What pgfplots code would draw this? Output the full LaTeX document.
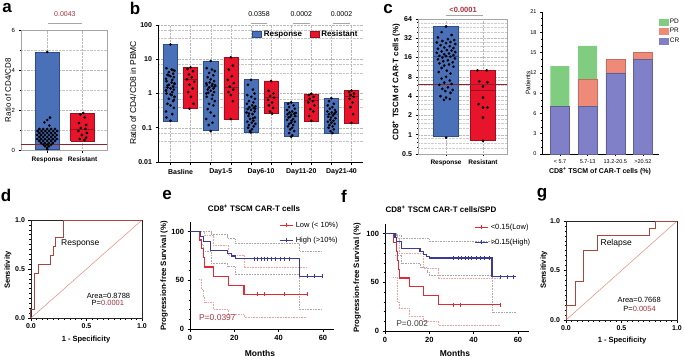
\documentclass[border=0pt]{standalone}
\usepackage{fontspec}
\setmainfont{Liberation Sans}
\usepackage{pgfplots}
\pgfplotsset{compat=1.18}
\definecolor{bfill}{HTML}{4A70B8}
\definecolor{bdraw}{HTML}{2E4C8C}
\definecolor{rfill}{HTML}{E8142C}
\definecolor{rdraw}{HTML}{9E0F1E}
\definecolor{thr}{HTML}{8B2232}
\definecolor{pv}{HTML}{A8323E}
\definecolor{roc}{HTML}{A5473D}
\definecolor{diag}{HTML}{E88A78}
\definecolor{kmr}{HTML}{E02A36}
\definecolor{kmb}{HTML}{3A3A98}
\definecolor{cir}{HTML}{F2A0A0}
\definecolor{cib}{HTML}{A8A8A8}
\definecolor{cr}{HTML}{8080C8}
\definecolor{pr}{HTML}{F08A78}
\definecolor{pd}{HTML}{80CC80}
\newcommand\fs[1]{\fontsize{#1}{#1}\selectfont}
\newcommand\rbar[6]{%
\addplot[fill=#6fill, draw=#6draw, line width=0.5pt, forget plot] coordinates {(#1,#3) (#2,#3) (#2,#4) (#1,#4) (#1,#3)};
\addplot[draw=#6draw, line width=0.7pt, forget plot] coordinates {(#1,#5) (#2,#5)};}
\pgfplotsset{
  base/.style={scale only axis, anchor=south west, clip=false, tick align=outside,
    /pgf/number format/assume math mode=true,
    major tick length=2.5pt, minor tick length=1.5pt,
    tick style={black, line width=0.6pt},
    axis line style={line width=0.7pt},
    tick label style={font=\fs{7}\bfseries},
    grid style={densely dotted, gray!55, line width=0.4pt},
    minor grid style={densely dotted, gray!45, line width=0.4pt},
    xtick pos=left, ytick pos=left, legend cell align=left},
  dots/.style={only marks, mark=*, mark size=1.15pt, black, forget plot},
  boxleg/.style={legend image code/.code={\draw[##1] (0pt,-3pt) rectangle (9pt,3pt);}},
  kmleg/.style={legend image code/.code={\draw[##1] (0pt,0pt)--(13pt,0pt); \draw[##1] (6.5pt,-2pt)--(6.5pt,2pt);}},
}
\begin{document}
\begin{tikzpicture}[x=1pt,y=1pt]
\useasboundingbox (0,0) rectangle (685,360);

%% ---------------- panel a ----------------
\begin{axis}[base, at={(21pt,210pt)}, width=86pt, height=120pt,
  xmin=-0.74, xmax=1.69, ymin=0, ymax=6,
  xtick={0,1}, xticklabels={Response,Resistant},
  ytick={0,2,4,6}, minor ytick={1,3,5},
  yticklabel style={font=\fs{6}},
  xticklabel style={font=\fs{6.5}\bfseries, yshift=-1pt},
  xmajorgrids, ymajorgrids, yminorgrids,
  axis line style={gray!70}]
\rbar{-0.34}{0.34}{0.05}{4.9}{0.55}{b}
\rbar{0.66}{1.34}{0.45}{1.85}{1.05}{r}
\addplot[dots] coordinates {
(0,4.9)
(0.08,1.62)(0.0,1.5)(-0.08,1.38)(0.06,1.22)
(-0.22,1.05)(-0.11,1.05)(0,1.05)(0.11,1.05)(0.22,1.05)
(-0.27,0.95)(-0.16,0.95)(-0.05,0.95)(0.06,0.95)(0.17,0.95)(0.28,0.95)
(-0.22,0.85)(-0.11,0.85)(0,0.85)(0.11,0.85)(0.22,0.85)
(-0.28,0.75)(-0.17,0.75)(-0.06,0.75)(0.05,0.75)(0.16,0.75)(0.27,0.75)
(-0.22,0.65)(-0.11,0.65)(0,0.65)(0.11,0.65)(0.22,0.65)
(-0.28,0.55)(-0.17,0.55)(-0.06,0.55)(0.05,0.55)(0.16,0.55)(0.27,0.55)
(-0.22,0.45)(-0.11,0.45)(0,0.45)(0.11,0.45)(0.22,0.45)
(-0.17,0.35)(-0.06,0.35)(0.05,0.35)(0.16,0.35)
(-0.11,0.27)(0,0.27)(0.11,0.27)
(-0.06,0.19)(0.05,0.19)
(0,0.11)(0,0.04)};
\addplot[dots] coordinates {(1.02,1.85)(0.94,1.78)(1.06,1.62)(0.9,1.35)(1.1,1.25)(0.95,1.1)(1.08,1.05)(0.88,0.95)(1.12,0.85)(0.98,0.75)(1.1,0.62)(0.92,0.55)(1.05,0.5)};
\addplot[thr, line width=0.8pt] coordinates {(-0.74,0.3)(1.69,0.3)};
\draw[gray!70, line width=0.8pt] (axis cs:0.03,6.35) -- (axis cs:0.97,6.35);
\node[text=pv, font=\fs{7}] at (axis cs:0.5,6.78) {0.0043};
\end{axis}

%% ---------------- panel b ----------------
\begin{axis}[base, at={(158pt,198pt)}, width=205pt, height=137pt,
  ymode=log, ymin=0.01, ymax=100, xmin=-0.62, xmax=9.57,
  axis x line*=bottom, axis y line*=left,
  xtick={0,...,9}, xticklabels={,,,,,,,,,},
  extra x ticks={0.5,2.5,4.5,6.5,8.5},
  extra x tick labels={Basline,Day1-5,Day6-10,Day11-20,Day21-40},
  extra x tick style={major tick length=0pt, grid=none, tick label style={yshift=-3.5pt}},
  ytick={0.01,0.1,1,10,100}, yticklabels={0.01,0.1,1,10,100},
  minor ytick={0.04,0.07,0.4,0.7,4,7,40,70},
  xmajorgrids, ymajorgrids, yminorgrids, minor tick length=0pt,
  boxleg,
  legend style={at={(rel axis cs:0.445,0.934)}, anchor=west, draw=none, fill=none,
    font=\fs{8}\bfseries, legend columns=2, /tikz/every even column/.style={column sep=6pt}}]
\rbar{-0.35}{0.35}{0.156}{27}{1.5}{b}
\rbar{0.65}{1.35}{0.36}{5.8}{2.67}{r}
\rbar{1.65}{2.35}{0.082}{8.9}{1.6}{b}
\rbar{2.65}{3.35}{0.18}{11.4}{1.53}{r}
\rbar{3.65}{4.35}{0.073}{2.6}{0.38}{b}
\rbar{4.65}{5.35}{0.27}{2.34}{0.78}{r}
\rbar{5.65}{6.35}{0.056}{0.55}{0.22}{b}
\rbar{6.65}{7.35}{0.16}{0.98}{0.65}{r}
\rbar{7.65}{8.35}{0.07}{0.73}{0.24}{b}
\rbar{8.65}{9.35}{0.137}{1.22}{0.8}{r}
\addplot[dots] coordinates {
(0,27)(-0.2,5.5)(0.06,5.0)(0.2,4.6)(-0.08,4.2)(0.13,3.8)(-0.15,3.5)(0.0,3.2)(0.17,3.0)(-0.22,2.7)(0.09,2.5)
(-0.2,2.3)(0.06,2.1)(0.2,1.9)(-0.08,1.8)(0.13,1.6)(-0.15,1.5)(0.0,1.4)(0.17,1.3)(-0.22,1.2)(0.09,1.1)
(-0.2,1.0)(0.06,0.9)(0.2,0.8)(-0.08,0.7)(0.13,0.6)(-0.15,0.5)(0.0,0.45)(0.17,0.38)(-0.22,0.3)(0.09,0.25)
(-0.2,0.2)(0.0,0.16)(0.2,2.0)(-0.08,3.4)(0.13,4.8)(-0.15,1.7)(0.0,0.95)(0.17,0.65)(-0.22,1.25)
(1.0,5.8)(0.85,5.2)(1.12,4.5)(0.92,3.6)(1.06,3.0)(0.82,2.6)(1.18,2.2)(0.95,1.8)(1.1,1.4)(0.88,1.1)(1.02,0.8)(1.15,0.5)(0.95,0.36)
(2.0,8.9)(1.8,5.5)(2.06,5.0)(2.2,4.5)(1.92,4.0)(2.13,3.4)(1.85,3.0)(2.0,2.6)(2.17,2.3)(1.78,2.0)(2.09,1.9)(1.8,1.8)
(2.06,1.7)(2.2,1.6)(1.92,1.5)(2.13,1.4)(1.85,1.3)(2.0,1.2)(2.17,1.1)(1.78,1.0)(2.09,0.9)(1.8,0.8)(2.06,0.7)(2.2,0.6)
(1.92,0.5)(2.13,0.45)(1.85,0.35)(2.0,0.28)(2.17,0.22)(1.78,0.18)(2.09,0.14)(1.9,0.12)(2.0,0.08)(2.22,1.75)(1.95,2.1)(1.88,1.05)
(3.0,11.4)(3.1,6.5)(2.9,5.0)(3.05,3.2)(2.85,2.5)(3.15,2.0)(2.95,1.6)(3.12,1.3)(2.88,1.1)(3.0,0.9)(3.1,0.6)(3.0,0.18)
(4.0,2.5)(3.85,1.8)(4.1,1.3)(4.18,1.0)(3.82,0.9)(4.02,0.8)(4.2,0.7)(3.9,0.6)(4.12,0.55)(3.8,0.5)(4.06,0.45)(4.22,0.42)
(3.92,0.4)(4.14,0.38)(3.84,0.35)(4.0,0.33)(4.18,0.3)(3.78,0.28)(4.08,0.25)(3.88,0.22)(4.2,0.2)(3.96,0.18)(4.12,0.16)
(3.82,0.15)(4.04,0.14)(4.22,0.13)(3.9,0.12)(4.14,0.11)(3.86,0.1)(4.05,0.09)(3.95,0.08)(4.0,0.073)(4.2,0.36)(3.9,0.26)(4.1,0.19)
(5.0,2.3)(4.88,1.2)(5.12,1.0)(4.95,0.85)(5.15,0.75)(4.85,0.65)(5.05,0.55)(4.9,0.45)(5.1,0.38)(4.95,0.3)(5.05,0.26)
(6.0,0.55)(5.85,0.5)(6.12,0.45)(5.9,0.4)(6.18,0.36)(5.8,0.33)(6.05,0.3)(5.92,0.28)(6.15,0.26)(5.82,0.25)(6.0,0.24)
(6.2,0.22)(5.88,0.2)(6.1,0.18)(5.8,0.17)(6.02,0.16)(6.18,0.15)(5.9,0.13)(6.1,0.12)(5.84,0.11)(6.05,0.1)(5.95,0.09)
(6.15,0.08)(5.9,0.07)(6.05,0.06)(6.0,0.055)(6.22,0.27)(5.95,0.21)(6.0,0.14)
(7.0,0.98)(6.88,0.9)(7.12,0.8)(6.92,0.7)(7.08,0.6)(6.85,0.55)(7.15,0.45)(6.95,0.35)(7.1,0.3)(6.9,0.22)(7.0,0.16)
(8.0,0.73)(7.88,0.6)(8.12,0.5)(7.82,0.45)(8.05,0.4)(7.92,0.36)(8.18,0.33)(7.8,0.3)(8.02,0.28)(8.15,0.26)(7.88,0.25)
(8.08,0.23)(7.84,0.21)(8.2,0.19)(7.95,0.17)(8.1,0.16)(7.82,0.15)(8.0,0.14)(8.16,0.13)(7.9,0.12)(8.06,0.11)(7.86,0.1)
(8.12,0.09)(7.96,0.08)(8.05,0.07)(8.22,0.29)(7.98,0.2)
(9.0,1.22)(8.88,1.1)(9.12,1.0)(8.95,0.9)(9.1,0.8)(8.9,0.7)(9.05,0.55)(8.95,0.4)(9.08,0.25)(9.0,0.14)};
\addlegendimage{fill=bfill, draw=bdraw}\addlegendentry{Response}
\addlegendimage{fill=rfill, draw=rdraw}\addlegendentry{Resistant}
\draw[gray!70, line width=0.8pt] (axis cs:3.98,115) -- (axis cs:4.82,115);
\draw[gray!70, line width=0.8pt] (axis cs:6.08,115) -- (axis cs:6.92,115);
\draw[gray!70, line width=0.8pt] (axis cs:8.08,115) -- (axis cs:8.92,115);
\node[font=\fs{7}] at (axis cs:4.4,205) {0.0358};
\node[font=\fs{7}] at (axis cs:6.5,205) {0.0002};
\node[font=\fs{7}] at (axis cs:8.5,205) {0.0002};
\end{axis}

%% ---------------- panel c ----------------
\begin{axis}[base, at={(418pt,206pt)}, width=89pt, height=135pt,
  ymode=log, log basis y=2, ymin=0.5, ymax=64, xmin=-0.76, xmax=1.65,
  xtick={0,1}, xticklabels={Response,Resistant},
  xticklabel style={font=\fs{6.5}\bfseries},
  ytick={0.5,1,2,4,8,16,32,64}, yticklabels={0.5,1,2,4,8,16,32,64},
  extra y ticks={0.625,0.75,0.875,1.25,1.5,1.75,2.5,3,3.5,5,6,7,10,12,14,20,24,28,40,48,56},
  extra y tick labels={},
  extra y tick style={major tick length=1.2pt, major grid style={densely dotted, gray!40, line width=0.4pt}},
  xmajorgrids, ymajorgrids, axis line style={gray!70}]
\rbar{-0.34}{0.34}{0.93}{49}{16.7}{b}
\rbar{0.66}{1.34}{0.81}{10.1}{5.0}{r}
\addplot[dots] coordinates {
(0,49)(-0.12,40)(0.15,36)(-0.22,33)(0.05,31)(0.22,30)(-0.1,29)(0.12,28)(-0.25,27.5)(0.0,27)(0.25,26)
(-0.15,25)(0.1,24)(-0.05,23)(0.2,22.5)(-0.22,22)(0.02,21)(0.15,20.5)(-0.12,20)(0.25,19.5)(-0.25,19)
(0.08,18.5)(-0.05,18)(0.2,17.5)(-0.18,17)(0.0,16.8)(0.12,16.5)(-0.1,16)(0.24,15.5)(-0.22,15)(0.05,14.5)
(-0.08,14)(0.18,13.5)(-0.18,13)(0.08,12.5)(-0.05,12)(0.2,11.5)(-0.12,11)(0.02,10)(-0.2,9.5)(0.12,9)
(0.0,8)(-0.12,7.5)(0.1,7)(-0.05,6.5)(0.15,6.2)(-0.18,6)(0.05,5.5)(-0.1,5.2)(0.18,5)(-0.02,4.8)(0.12,4.5)
(-0.15,4.0)(0.0,3.8)(0.1,3.6)(-0.06,3.5)(0.0,0.9)};
\addplot[dots] coordinates {(0.85,10.1)(1.1,10.1)(0.9,6.8)(1.12,6.6)(1.0,5.66)(1.0,3.8)(0.88,3.0)(1.12,2.65)(1.0,2.65)(1.0,1.85)(1.0,0.8)};
\addplot[thr, line width=0.8pt] coordinates {(-0.76,6.0)(1.65,6.0)};
\draw[gray!70, line width=0.8pt] (axis cs:0.0,74) -- (axis cs:1.0,74);
\node[text=pv, font=\fs{7.5}\bfseries] at (axis cs:0.46,89) {<0.0001};
\end{axis}

%% ---------------- stacked bars ----------------
\begin{axis}[base, at={(542pt,206pt)}, width=117pt, height=142pt,
  ybar stacked, bar width=19pt,
  ymin=0, ymax=21, ytick={0,3,6,9,12,15,18,21}, minor y tick num=2,
  xmin=-0.65, xmax=3.58, xtick={0,1,2,3},
  xticklabels={< 5.7,5.7-13,13.2-20.5,>20.52},
  axis x line*=bottom, axis y line*=left,
  tick label style={font=\fs{5.5}}, major tick length=2pt,
  boxleg,
  legend style={at={(rel axis cs:1.0,0.96)}, anchor=north west, draw=none, fill=none,
    inner sep=0pt, nodes={inner sep=1.2pt}, font=\fs{6.5}, row sep=1pt}]
\addplot[fill=cr, draw=cr!75!black, line width=0.4pt, forget plot] coordinates {(0,7)(1,7)(2,12)(3,14)};
\addplot[fill=pr, draw=pr!80!black, line width=0.4pt, forget plot] coordinates {(0,0)(1,4)(2,2)(3,1)};
\addplot[fill=pd, draw=none, forget plot] coordinates {(0,6)(1,5)(2,0)(3,0)};
\addlegendimage{fill=pd, draw=pd}\addlegendentry{PD}
\addlegendimage{fill=pr, draw=pr}\addlegendentry{PR}
\addlegendimage{fill=cr, draw=cr}\addlegendentry{CR}
\node[font=\fs{6.5}\bfseries] at (axis cs:0,3.5) {7};
\node[font=\fs{6.5}\bfseries] at (axis cs:0,10.2) {6};
\node[font=\fs{6.5}\bfseries] at (axis cs:1,3.5) {7};
\node[font=\fs{6.5}\bfseries] at (axis cs:1,8.9) {2};
\node[font=\fs{6.5}\bfseries] at (axis cs:1,13.4) {5};
\node[font=\fs{6.5}\bfseries] at (axis cs:2,5.7) {12};
\node[font=\fs{6.5}\bfseries] at (axis cs:2,12.9) {2};
\node[font=\fs{6.5}\bfseries] at (axis cs:3,6.7) {14};
\node[font=\fs{6.5}\bfseries] at (axis cs:3,14.5) {1};
\end{axis}

%% ---------------- panel d ----------------
\begin{axis}[base, at={(31pt,42pt)}, width=111pt, height=98pt,
  xmin=0, xmax=1, ymin=0, ymax=1,
  xtick={0,0.5,1}, xticklabels={0.0,0.5,1.0},
  ytick={0,0.5,1}, yticklabels={0.0,0.5,1.0}, minor tick num=9,
  axis line style={black!85, line width=0.9pt}]
\addplot[diag, line width=0.5pt] coordinates {(0,0)(1,1)};
\addplot[roc, line width=1pt] coordinates {(0,0)(0,0.09)(0.03,0.09)(0.03,0.455)(0.07,0.455)(0.07,0.545)(0.18,0.545)(0.18,0.636)(0.2,0.636)(0.2,0.727)(0.22,0.727)(0.22,0.818)(0.29,0.818)(0.29,1)(1,1)};
\node[anchor=west, font=\fs{8.5}] at (axis cs:0.24,0.76) {Response};
\node[anchor=east, font=\fs{7.5}] at (axis cs:0.925,0.23) {Area=0.8788};
\node[anchor=east, font=\fs{7.5}] at (axis cs:0.87,0.15) {P=\textcolor{pv}{0.0001}};
\end{axis}

%% ---------------- panel e ----------------
\begin{axis}[base, at={(190pt,31pt)}, width=144pt, height=107pt,
  xmin=0, xmax=65, ymin=0, ymax=110,
  axis x line*=bottom, axis y line*=left, axis line style={line width=1pt},
  xtick={0,20,40,60}, ytick={0,50,100}, minor ytick={10,20,30,40,60,70,80,90},
  tick label style={font=\fs{7.5}\bfseries}, kmleg,
  legend style={at={(rel axis cs:0.6,1.04)}, anchor=north west, draw=none, fill=none,
    font=\fs{7.5}, row sep=4pt}]
\addplot[const plot, cir, densely dotted, line width=0.6pt, forget plot] coordinates {(0,100)(6.5,96)(10.6,86)(17.3,76)(24.4,63)(52.8,63)};
\addplot[const plot, cir, densely dotted, line width=0.6pt, forget plot] coordinates {(4.2,51)(5.3,41)(6,33)(6.5,27)(10.6,20)(17.3,15)(24.4,12)(52.8,12)};
\addplot[const plot, cib, densely dotted, line width=0.6pt, forget plot] coordinates {(0,100)(9.4,97)(16.9,93)(20.4,88)(49.5,80)(59.5,80)};
\addplot[const plot, cib, densely dotted, line width=0.6pt, forget plot] coordinates {(4.8,87)(6,80)(9.4,68)(16.9,64)(20.4,56)(49.5,20)(59.5,20)};
\addplot[const plot, kmr, line width=1.2pt] coordinates {(0,100)(4.2,91.4)(5.3,82.8)(6,73.3)(6.5,63.8)(10.6,54.3)(17.3,44.8)(24.4,35.8)(52.8,35.8)};
\addlegendentry{Low (< 10\%)}
\addplot[const plot, kmb, line width=1.2pt] coordinates {(0,100)(4.8,95.5)(6,90)(9.4,81)(16.9,78)(18.8,75)(20.4,72.4)(49.5,54)(59.5,54)};
\addlegendentry{High (>10\%)}
\addplot[only marks, mark=|, mark size=2pt, kmr, forget plot] coordinates {(30.5,35.8)(33.5,35.8)(42.5,35.8)(52.8,35.8)};
\addplot[only marks, mark=|, mark size=2pt, kmb, forget plot] coordinates {(29,72.4)(30.5,72.4)(32,72.4)(33.5,72.4)(35,72.4)(36.5,72.4)(38.5,72.4)(40.5,72.4)(42.5,72.4)(45,72.4)(53,54)(56,54)(59.5,54)};
\node[anchor=west, text=pv, font=\fs{8.5}] at (axis cs:2.5,12) {P=0.0397};
\end{axis}

%% ---------------- panel f ----------------
\begin{axis}[base, at={(385pt,29pt)}, width=144pt, height=107pt,
  xmin=0, xmax=65, ymin=0, ymax=110,
  axis x line*=bottom, axis y line*=left, axis line style={line width=1pt},
  xtick={0,20,40,60}, ytick={0,50,100}, minor ytick={10,20,30,40,60,70,80,90},
  tick label style={font=\fs{7.5}\bfseries}, kmleg,
  legend style={at={(rel axis cs:0.6,1.04)}, anchor=north west, draw=none, fill=none,
    font=\fs{7.5}, row sep=4pt}]
\addplot[const plot, cir, densely dotted, line width=0.6pt, forget plot] coordinates {(0,100)(5.6,95)(6.5,80)(17.4,64)(24,54)(52,54)};
\addplot[const plot, cir, densely dotted, line width=0.6pt, forget plot] coordinates {(3.8,55)(5.6,30)(6.5,23)(11,15)(17.4,10)(24,6)(52,6)};
\addplot[const plot, cib, densely dotted, line width=0.6pt, forget plot] coordinates {(0,100)(5.3,98)(7.5,95)(20,92)(48.3,90)(59,90)};
\addplot[const plot, cib, densely dotted, line width=0.6pt, forget plot] coordinates {(4.5,78)(7.5,70)(15.8,65)(18.9,60)(20,57)(48.3,19)(59,19)};
\addplot[const plot, kmr, line width=1.2pt] coordinates {(0,100)(3.8,91)(5.3,82)(5.6,72.7)(6.0,63.6)(6.5,54.5)(11,45.4)(17.4,36.3)(24,27.2)(52,27.2)};
\addlegendentry{<0.15(Low)}
\addplot[const plot, kmb, line width=1.2pt] coordinates {(0,100)(4.5,96)(5.3,92)(7.5,85)(15.8,82)(17.4,79)(18.9,77)(20,75)(48.3,56)(59,56)};
\addlegendentry{>0.15(High)}
\addplot[only marks, mark=|, mark size=2pt, kmr, forget plot] coordinates {(31,27.2)(34,27.2)(52,27.2)};
\addplot[only marks, mark=|, mark size=2pt, kmb, forget plot] coordinates {(31,75)(33,75)(34.5,75)(36,75)(37.5,75)(39,75)(41,75)(43,75)(45,75)(47,75)(52,56)(55,56)(58,56)};
\node[anchor=west, text=black!75, font=\fs{8.5}] at (axis cs:3.5,8) {P=0.002};
\end{axis}

%% ---------------- panel g ----------------
\begin{axis}[base, at={(566pt,40pt)}, width=111pt, height=99pt,
  xmin=0, xmax=1, ymin=0, ymax=1,
  xtick={0,0.5,1}, xticklabels={0.0,0.5,1.0},
  ytick={0,0.5,1}, yticklabels={0.0,0.5,1.0}, minor tick num=9,
  axis line style={black!85, line width=0.9pt}]
\addplot[diag, line width=0.5pt] coordinates {(0,0)(1,1)};
\addplot[roc, line width=1pt] coordinates {(0,0)(0,0.15)(0.09,0.15)(0.09,0.39)(0.16,0.39)(0.16,0.70)(0.28,0.70)(0.28,0.85)(0.75,0.85)(0.75,0.925)(0.81,0.925)(0.81,1)(1,1)};
\node[anchor=west, font=\fs{8.5}] at (axis cs:0.28,0.77) {Relapse};
\node[anchor=east, font=\fs{7.5}] at (axis cs:0.885,0.2) {Area=0.7668};
\node[anchor=east, font=\fs{7.5}] at (axis cs:0.84,0.11) {P=\textcolor{pv}{0.0054}};
\end{axis}

%% ---------------- labels ----------------
\node[rotate=90, font=\fs{8}] at (8,270) {Ratio of CD4/CD8};
\node[rotate=90, font=\fs{8.5}] at (133,267) {Ratio of CD4/CD8 in PBMC};
\node[rotate=90, font=\fs{8}\bfseries] at (396,278) {CD8\textsuperscript{+} TSCM of CAR-T cells (\%)};
\node[rotate=90, font=\fs{6.5}] at (528,277) {Patients};
\node[font=\fs{7}\bfseries] at (600,189) {CD8\textsuperscript{+} TSCM of CAR-T cells (\%)};
\node[rotate=90, font=\fs{7.5}\bfseries] at (8,90) {Sensitivity};
\node[font=\fs{7.5}\bfseries] at (86,20) {1 - Specificity};
\node[rotate=90, font=\fs{7.8}\bfseries] at (164,84) {Progression-free Survival (\%)};
\node[font=\fs{8}\bfseries] at (254,152) {CD8\textsuperscript{+} TSCM CAR-T cells};
\node[font=\fs{8.5}\bfseries] at (260,7) {Months};
\node[rotate=90, font=\fs{7.8}\bfseries] at (357,82) {Progression-free Survival (\%)};
\node[font=\fs{8}\bfseries] at (441,151) {CD8\textsuperscript{+} TSCM CAR-T cells/SPD};
\node[font=\fs{8.5}\bfseries] at (455,7) {Months};
\node[rotate=90, font=\fs{7.5}\bfseries] at (544,90) {Sensitivity};
\node[font=\fs{7.5}\bfseries] at (622,19) {1 - Specificity};
\node[font=\fs{17}\bfseries] at (7,352) {a};
\node[font=\fs{17}\bfseries] at (135,352) {b};
\node[font=\fs{17}\bfseries] at (388,351) {c};
\node[font=\fs{17}\bfseries] at (6,165) {d};
\node[font=\fs{17}\bfseries] at (167,165) {e};
\node[font=\fs{17}\bfseries] at (344,164) {f};
\node[font=\fs{17}\bfseries] at (542,165) {g};
\end{tikzpicture}
\end{document}
